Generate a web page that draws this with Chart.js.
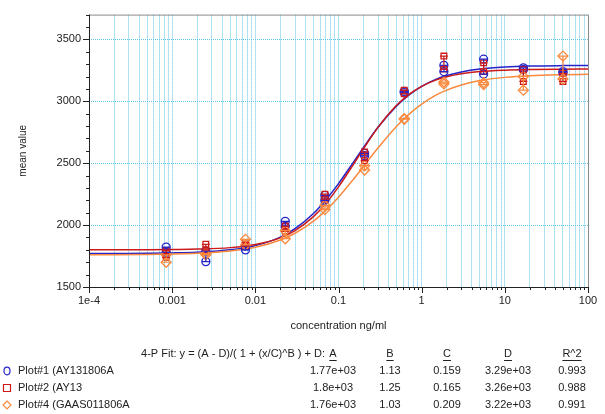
<!DOCTYPE html>
<html>
<head>
<meta charset="utf-8">
<script src="https://cdn.jsdelivr.net/npm/chart.js@4.4.1/dist/chart.umd.min.js"></script>
<style>
  body { margin: 0; background: #fff; }
  #wrap { width: 605px; height: 414px; }
</style>
</head>
<body>
<div id="wrap"><canvas id="fitChart" width="605" height="414"></canvas></div>
<script>
// concentrations (ng/ml) of the standards
const concentrations = [0.000847, 0.00254, 0.00762, 0.0229, 0.0686, 0.206, 0.617, 1.85, 5.56, 16.7, 50];

// replicate readings per plot
const plot1RepA = [1822, 1705, 1800, 2030, 2240, 2580, 3080, 3290, 3340, 3270, 3240];
const plot1RepB = [1780, 1790, 1830, 1990, 2200, 2560, 3070, 3240, 3220, 3255, 3230];
const plot2RepA = [1795, 1845, 1860, 1990, 2250, 2590, 3090, 3365, 3310, 3255, 3225];
const plot2RepB = [1740, 1800, 1830, 1950, 2210, 2520, 3060, 3260, 3240, 3160, 3160];
const plot4RepA = [1760, 1770, 1885, 1955, 2160, 2480, 2860, 3155, 3150, 3200, 3365];
const plot4RepB = [1700, 1760, 1840, 1890, 2125, 2445, 2855, 3140, 3135, 3090, 3180];

// fitted curves
const curveX = [1e-4, 2e-4, 5e-4, 0.001, 0.002, 0.005, 0.01, 0.02, 0.03, 0.05, 0.07, 0.1, 0.15, 0.2, 0.3, 0.5, 0.7, 1, 1.5, 2, 3, 5, 10, 20, 50, 100];
const fit1 = [1770, 1771, 1772, 1775, 1781, 1800, 1834, 1903, 1971, 2094, 2201, 2335, 2505, 2628, 2792, 2963, 3050, 3121, 3179, 3208, 3237, 3260, 3276, 3284, 3288, 3289];
const fit2 = [1800, 1800, 1801, 1803, 1806, 1818, 1843, 1897, 1955, 2068, 2172, 2309, 2487, 2617, 2791, 2968, 3054, 3121, 3173, 3198, 3222, 3240, 3251, 3256, 3259, 3260];
const fit4 = [1761, 1761, 1763, 1766, 1772, 1791, 1821, 1880, 1934, 2032, 2117, 2225, 2367, 2474, 2624, 2798, 2894, 2977, 3051, 3090, 3132, 3167, 3193, 3207, 3215, 3218];

// axis ticks
const xMajorTicks = [1e-4, 0.001, 0.01, 0.1, 1, 10, 100];
const xTickLabels = ['1e-4', '0.001', '0.01', '0.1', '1', '10', '100'];
const yTicks = [1500, 2000, 2500, 3000, 3500];

// fit table
const plotNames = ['Plot#1 (AY131806A', 'Plot#2 (AY13', 'Plot#4 (GAAS011806A'];
const fitA = ['1.77e+03', '1.8e+03', '1.76e+03'];
const fitB = ['1.13', '1.25', '1.03'];
const fitC = ['0.159', '0.165', '0.209'];
const fitD = ['3.29e+03', '3.26e+03', '3.22e+03'];
const fitR2 = ['0.993', '0.988', '0.991'];

const blue = '#2424c8';
const red = '#cc1a1a';
const orange = '#fb8a3e';
const gridBlue = '#5fc6ea';
const FONT = '"Liberation Sans", Arial, sans-serif';

function toPoints(xs, ys) {
    return xs.map((x, i) => ({ x: x, y: ys[i] }));
}

function repPoints(a, b) {
    return toPoints(concentrations, a).concat(toPoints(concentrations, b));
}

// all log ticks 1..9 per decade
const xAllTicks = [];
for (let e = -4; e < 2; e++) {
    for (let k = 1; k < 10; k++) {
        xAllTicks.push(Number((k * Math.pow(10, e)).toPrecision(3)));
    }
}
xAllTicks.push(100);

function isMajor(v) {
    return xMajorTicks.some(m => Math.abs(Math.log10(v) - Math.log10(m)) < 1e-6);
}

const fitDataset = (label, ys, color) => ({
    type: 'line',
    label: label,
    data: toPoints(curveX, ys),
    borderColor: color,
    borderWidth: 1.5,
    pointRadius: 0,
    cubicInterpolationMode: 'monotone',
    fill: false,
    order: 2
});

const repDataset = (label, a, b, color, style, radius) => ({
    type: 'scatter',
    label: label,
    data: repPoints(a, b),
    borderColor: color,
    backgroundColor: 'rgba(0,0,0,0)',
    borderWidth: 1.3,
    pointStyle: style,
    pointRadius: radius,
    order: 1
});

const errorSeries = [
    { a: plot1RepA, b: plot1RepB, color: blue },
    { a: plot2RepA, b: plot2RepB, color: red },
    { a: plot4RepA, b: plot4RepB, color: orange }
];

// error bars, ticks, frame, titles and the fit table
const extras = {
    id: 'extras',
    afterDatasetsDraw(chart) {
        const ctx = chart.ctx;
        const xs = chart.scales.x;
        const ys = chart.scales.y;
        ctx.save();
        ctx.lineWidth = 1.2;
        errorSeries.forEach(s => {
            ctx.strokeStyle = s.color;
            concentrations.forEach((c, i) => {
                const px = xs.getPixelForValue(c);
                const top = ys.getPixelForValue(Math.max(s.a[i], s.b[i]));
                const bot = ys.getPixelForValue(Math.min(s.a[i], s.b[i]));
                ctx.beginPath();
                ctx.moveTo(px, top); ctx.lineTo(px, bot);
                ctx.moveTo(px - 4, top); ctx.lineTo(px + 4, top);
                ctx.moveTo(px - 4, bot); ctx.lineTo(px + 4, bot);
                ctx.stroke();
            });
        });
        ctx.restore();
    },
    afterDraw(chart) {
        const ctx = chart.ctx;
        const area = chart.chartArea;
        const xs = chart.scales.x;
        const ys = chart.scales.y;
        ctx.save();

        // frame top / right
        ctx.strokeStyle = '#8a8a8a';
        ctx.lineWidth = 1;
        ctx.beginPath();
        ctx.moveTo(area.left, area.top + 0.5);
        ctx.lineTo(area.right + 0.5, area.top + 0.5);
        ctx.lineTo(area.right + 0.5, area.bottom);
        ctx.stroke();

        // axis lines
        ctx.strokeStyle = '#222';
        ctx.beginPath();
        ctx.moveTo(area.left + 0.5, area.top);
        ctx.lineTo(area.left + 0.5, area.bottom + 0.5);
        ctx.lineTo(area.right, area.bottom + 0.5);
        ctx.stroke();

        // x tick marks
        ctx.beginPath();
        xAllTicks.forEach(v => {
            const px = Math.round(xs.getPixelForValue(v)) + 0.5;
            const len = isMajor(v) ? 6 : 3;
            ctx.moveTo(px, area.bottom);
            ctx.lineTo(px, area.bottom + len);
        });
        // y tick marks, minor every 100
        for (let v = 1500; v <= 3700; v += 100) {
            const py = Math.round(ys.getPixelForValue(v)) + 0.5;
            const len = v % 500 === 0 ? 6 : 3;
            ctx.moveTo(area.left, py);
            ctx.lineTo(area.left - len, py);
        }
        ctx.stroke();

        // axis titles
        ctx.fillStyle = '#222';
        ctx.font = '11px ' + FONT;
        ctx.textAlign = 'center';
        ctx.textBaseline = 'middle';
        ctx.fillText('concentration ng/ml', (area.left + area.right) / 2, 326);
        ctx.save();
        ctx.translate(23, (area.top + area.bottom) / 2);
        ctx.rotate(-Math.PI / 2);
        ctx.font = '10px ' + FONT;
        ctx.fillText('mean value', 0, 0);
        ctx.restore();

        // fit table
        const colX = [333, 390, 447, 508, 572];
        const heads = ['A', 'B', 'C', 'D', 'R^2'];
        const rowY = [371, 388, 405];
        ctx.font = '11px ' + FONT;
        ctx.textAlign = 'right';
        ctx.fillText('4-P Fit: y = (A - D)/( 1 + (x/C)^B ) + D:', 325, 354);
        ctx.textAlign = 'center';
        ctx.lineWidth = 1;
        ctx.strokeStyle = '#222';
        heads.forEach((h, i) => {
            ctx.fillText(h, colX[i], 354);
            const w = ctx.measureText(h).width;
            ctx.beginPath();
            ctx.moveTo(colX[i] - w / 2, 360.5);
            ctx.lineTo(colX[i] + w / 2, 360.5);
            ctx.stroke();
        });
        const cols = [fitA, fitB, fitC, fitD, fitR2];
        const colors = [blue, red, orange];
        plotNames.forEach((name, r) => {
            const y = rowY[r];
            ctx.strokeStyle = colors[r];
            ctx.lineWidth = 1.2;
            ctx.beginPath();
            if (r === 0) {
                ctx.ellipse(7, y, 3, 3.8, 0, 0, Math.PI * 2);
            } else if (r === 1) {
                ctx.rect(3.5, y - 3.5, 7, 7);
            } else {
                ctx.moveTo(7, y - 4); ctx.lineTo(11, y); ctx.lineTo(7, y + 4); ctx.lineTo(3, y); ctx.closePath();
            }
            ctx.stroke();
            ctx.fillStyle = '#222';
            ctx.textAlign = 'left';
            ctx.fillText(name, 18, y);
            ctx.textAlign = 'center';
            cols.forEach((col, i) => ctx.fillText(col[r], colX[i], y));
        });
        ctx.restore();
    }
};

const chart = new Chart(document.getElementById('fitChart').getContext('2d'), {
    data: {
        datasets: [
            fitDataset('Plot#4 fit', fit4, orange),
            fitDataset('Plot#2 fit', fit2, red),
            fitDataset('Plot#1 fit', fit1, blue),
            repDataset('Plot#4', plot4RepA, plot4RepB, orange, 'rectRot', 5),
            repDataset('Plot#2', plot2RepA, plot2RepB, red, 'rect', 4),
            repDataset('Plot#1', plot1RepA, plot1RepB, blue, 'circle', 4)
        ]
    },
    options: {
        responsive: false,
        animation: false,
        layout: { padding: { top: 12, right: 17, left: 0, bottom: 0 }, autoPadding: false },
        plugins: { legend: { display: false }, tooltip: { enabled: false } },
        scales: {
            x: {
                type: 'logarithmic',
                min: 1e-4,
                max: 100,
                afterBuildTicks: s => { s.ticks = xAllTicks.map(v => ({ value: v, major: isMajor(v) })); },
                afterFit: s => { s.height = 127; },
                grid: { color: gridBlue, lineWidth: 1, drawTicks: false },
                border: { display: false, dash: [1, 1] },
                ticks: {
                    autoSkip: false,
                    maxRotation: 0,
                    padding: 7,
                    color: '#222',
                    font: { family: FONT, size: 11 },
                    callback: (v) => {
                        const i = xMajorTicks.findIndex(m => Math.abs(Math.log10(v) - Math.log10(m)) < 1e-6);
                        return i >= 0 ? xTickLabels[i] : '';
                    }
                }
            },
            y: {
                min: 1500,
                max: 3700,
                afterBuildTicks: s => { s.ticks = yTicks.map(v => ({ value: v })); },
                afterFit: s => { s.width = 89; },
                grid: { color: gridBlue, lineWidth: 1, drawTicks: false },
                border: { display: false, dash: [1, 1] },
                ticks: {
                    padding: 8,
                    color: '#222',
                    font: { family: FONT, size: 11 },
                    callback: v => String(v)
                }
            }
        }
    },
    plugins: [extras]
});
</script>
</body>
</html>
